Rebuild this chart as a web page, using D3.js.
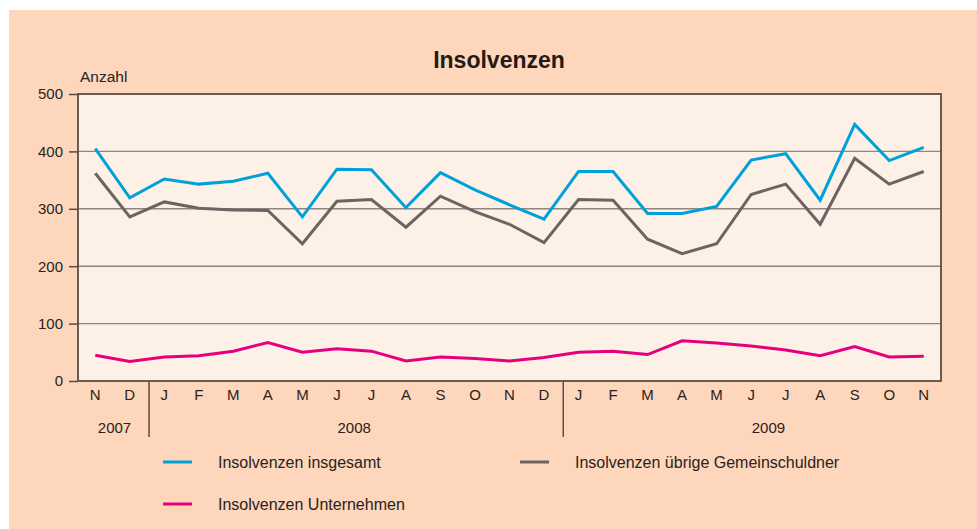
<!DOCTYPE html>
<html>
<head>
<meta charset="utf-8">
<script src="https://cdn.jsdelivr.net/npm/d3@7"></script>
<style>
  body { margin: 0; background: #fff; }
  svg { display: block; font-family: "Liberation Sans", Arial, sans-serif; }
</style>
</head>
<body>
<svg id="chart" width="977" height="529"></svg>
<script>
// months Nov 2007 .. Nov 2009
const months = ["N","D","J","F","M","A","M","J","J","A","S","O","N","D",
                "J","F","M","A","M","J","J","A","S","O","N"];
const insgesamt = [405,319,352,343,348,362,286,369,368,302,363,333,307,282,
                   365,365,292,292,304,385,396,315,447,384,407];
const uebrige = [362,286,312,301,298,297,239,313,316,268,322,295,273,241,
                 316,315,247,222,239,325,343,273,388,343,365];
const unternehmen = [45,34,42,44,52,67,50,56,52,35,42,39,35,41,
                     50,52,46,70,66,61,54,44,60,42,43];
const yTicks = [0,100,200,300,400,500];
const years = [
  {label: "2007", start: 0, end: 2},
  {label: "2008", start: 2, end: 14},
  {label: "2009", start: 14, end: 26}
];
const series = [
  {name: "Insolvenzen insgesamt", values: insgesamt, color: "#00a0d8"},
  {name: "Insolvenzen übrige Gemeinschuldner", values: uebrige, color: "#6b6462"},
  {name: "Insolvenzen Unternehmen", values: unternehmen, color: "#e6007e"}
];

const svg = d3.select("#chart");
const margins = {top: 94, left: 78, right: 36, bottom: 148};
const width = 977, height = 529;
const chart_width = width - margins.left - margins.right;
const chart_height = height - margins.top - margins.bottom;
const textColor = "#2b2220";
const axisColor = "#5a4c47";

// peach background
svg.append("rect")
  .attr("x", 9).attr("y", 10)
  .attr("width", width - 9).attr("height", height - 10)
  .attr("fill", "#fdd6bb");

// title
svg.append("text")
  .attr("x", 499).attr("y", 68)
  .attr("text-anchor", "middle")
  .style("font-size", "23px")
  .style("font-weight", "bold")
  .attr("fill", "#231a18")
  .text("Insolvenzen");

const chart = svg.append("g")
  .attr("transform", `translate(${margins.left}, ${margins.top})`);

chart.append("rect")
  .attr("width", chart_width)
  .attr("height", chart_height)
  .attr("fill", "#fdf0e6");

const x_band = d3.scaleBand()
  .domain(d3.range(months.length))
  .range([0, chart_width]);
const step = x_band.step();
const x_pos = (i) => x_band(i) + x_band.bandwidth() / 2;
const x_edge = (i) => i * step;

const y_scale = d3.scaleLinear()
  .domain([0, 500])
  .range([chart_height, 0]);

// gridlines
chart.selectAll(".grid")
  .data(yTicks.filter(d => d > 0 && d < 500))
  .enter()
  .append("line")
  .attr("x1", 0).attr("x2", chart_width)
  .attr("y1", d => y_scale(d)).attr("y2", d => y_scale(d))
  .attr("stroke", "#8e8682")
  .attr("stroke-width", 1.4);

// y axis
const yAxis = d3.axisLeft(y_scale)
  .tickValues(yTicks)
  .tickSize(9)
  .tickPadding(6);
const y_axis = chart.append("g").call(yAxis);
y_axis.select(".domain").remove();
y_axis.selectAll("line").attr("stroke", axisColor).attr("stroke-width", 1.5);
y_axis.selectAll("text")
  .style("font-size", "15px")
  .attr("fill", textColor)
  .attr("font-family", "Liberation Sans, Arial, sans-serif");

// frame
chart.append("rect")
  .attr("width", chart_width)
  .attr("height", chart_height)
  .attr("fill", "none")
  .attr("stroke", axisColor)
  .attr("stroke-width", 1.8);

// month labels
chart.selectAll(".month")
  .data(months)
  .enter()
  .append("text")
  .attr("x", (d, i) => x_pos(i))
  .attr("y", chart_height + 19)
  .attr("text-anchor", "middle")
  .style("font-size", "15px")
  .attr("fill", textColor)
  .text(d => d);

// year separators
chart.selectAll(".sep")
  .data(years.slice(1))
  .enter()
  .append("line")
  .attr("x1", d => x_edge(d.start) + 2)
  .attr("x2", d => x_edge(d.start) + 2)
  .attr("y1", chart_height)
  .attr("y2", chart_height + 56)
  .attr("stroke", axisColor)
  .attr("stroke-width", 1.5);

// year labels
chart.selectAll(".year")
  .data(years)
  .enter()
  .append("text")
  .attr("x", d => (x_edge(d.start) + x_edge(d.end)) / 2 + (d.start === 0 ? 2 : 0))
  .attr("y", chart_height + 52)
  .attr("text-anchor", "middle")
  .style("font-size", "15px")
  .attr("fill", textColor)
  .text(d => d.label);

// axis title
svg.append("text")
  .attr("x", 80).attr("y", 82)
  .style("font-size", "15.5px")
  .attr("fill", textColor)
  .text("Anzahl");

// lines
const line = d3.line()
  .x((d, i) => x_pos(i))
  .y(d => y_scale(d));

chart.selectAll(".series")
  .data(series)
  .enter()
  .append("path")
  .attr("d", d => line(d.values))
  .attr("fill", "none")
  .attr("stroke", d => d.color)
  .attr("stroke-width", 3)
  .attr("stroke-linejoin", "miter");

// legend
const legendPos = [
  {x: 163, y: 462},
  {x: 520, y: 462},
  {x: 163, y: 504}
];
const legend = svg.selectAll(".legend")
  .data(series)
  .enter()
  .append("g")
  .attr("transform", (d, i) => `translate(${legendPos[i].x}, ${legendPos[i].y})`);

legend.append("line")
  .attr("x1", 0).attr("x2", 29)
  .attr("y1", 0).attr("y2", 0)
  .attr("stroke", d => d.color)
  .attr("stroke-width", 3);

legend.append("text")
  .attr("x", 55)
  .attr("y", 6)
  .style("font-size", "16px")
  .attr("fill", textColor)
  .text(d => d.name);
</script>
</body>
</html>
